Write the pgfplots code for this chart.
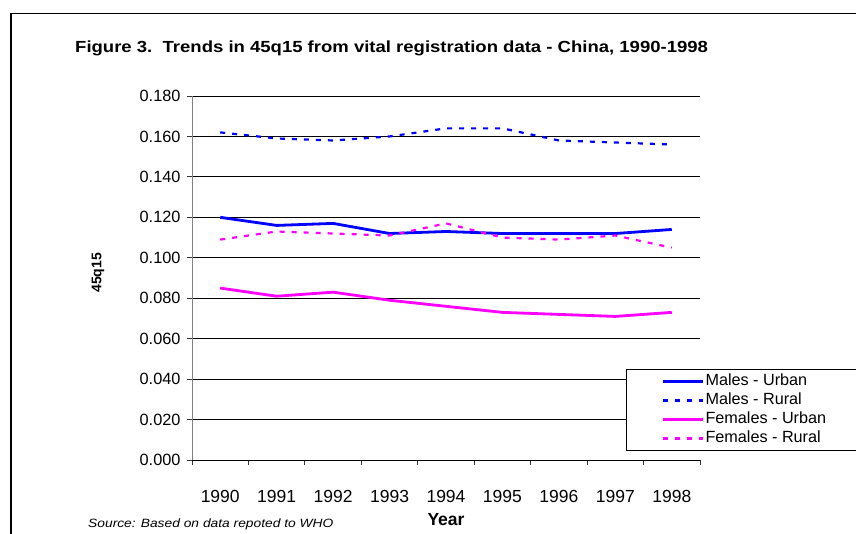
\documentclass[border=0pt]{standalone}
\usepackage{pgfplots}
\pgfplotsset{compat=1.18}
\usepackage{fontspec}
\setmainfont{Liberation Sans}
\newfontfamily\stretchfont{Liberation Sans}[FakeStretch=1.15]
\definecolor{mblue}{RGB}{0,0,255}
\definecolor{fmag}{RGB}{255,0,255}
\begin{document}
\begin{tikzpicture}
\useasboundingbox (0pt,0pt) rectangle (856pt,-534pt);
\draw[line width=1.5pt] (11pt,-540pt) -- (11pt,-13.5pt) -- (860pt,-13.5pt);
\node[anchor=base west, inner sep=0pt, font=\stretchfont\bfseries\fontsize{16.1}{19}\selectfont] at (75pt,-53pt) {Figure 3.\ \ Trends in 45q15 from vital registration data - China, 1990-1998};
\node[anchor=base west, inner sep=0pt, font=\stretchfont\itshape\fontsize{12}{14}\selectfont] at (88pt,-527pt) {Source: Based on data repoted to WHO};
\begin{axis}[
  at={(192pt,-460pt)}, anchor=south west,
  scale only axis, width=508pt, height=364pt,
  xmin=-0.5, xmax=8.5, ymin=0, ymax=0.18,
  axis lines*=left,
  x axis line style={black, line width=1pt},
  y axis line style={black!50, line width=1pt},
  xtick={-0.5,0.5,...,8.5}, xticklabels={},
  extra x ticks={0,1,2,3,4,5,6,7,8},
  extra x tick labels={1990,1991,1992,1993,1994,1995,1996,1997,1998},
  extra x tick style={major tick length=0pt},
  xticklabel shift=27pt,
  xticklabel style={font=\fontsize{17.5}{20}\selectfont},
  ytick={0,0.02,...,0.181},
  yticklabel shift=3pt,
  yticklabel style={font=\fontsize{16.3}{19}\selectfont, /pgf/number format/.cd, fixed, fixed zerofill, precision=3, assume math mode=true},
  tick align=outside, major tick length=5pt,
  tick style={black!80, line width=0.8pt},
  ymajorgrids, major grid style={black, line width=0.8pt},
  ylabel={\bfseries 45q15},
  ylabel style={at={(axis description cs:-0.185,0.514)}, anchor=center, rotate=0, font=\fontsize{14}{16}\selectfont},
  xlabel={\bfseries Year},
  xlabel style={at={(axis description cs:0.5,-0.165)}, anchor=center, font=\fontsize{17.5}{20}\selectfont},
  legend cell align=left,
  legend image code/.code={\draw[#1] (0pt,0pt) -- (40pt,0pt);},
  legend style={at={(axis description cs:0.854,0.25)}, anchor=north west,
    draw=black, line width=0.8pt, inner xsep=35pt, inner ysep=2.5pt, row sep=0pt,
    font=\fontsize{16.2}{19}\selectfont,
    nodes={inner sep=1.5pt, text height=12pt, text depth=4pt}},
]
\addplot[mblue, line width=2.8pt] coordinates {(0,0.120)(1,0.116)(2,0.117)(3,0.112)(4,0.113)(5,0.112)(6,0.112)(7,0.112)(8,0.114)};
\addlegendentry{Males - Urban}
\addplot[mblue, line width=2.2pt, dash pattern=on 5pt off 7pt] coordinates {(0,0.162)(1,0.159)(2,0.158)(3,0.160)(4,0.164)(5,0.164)(6,0.158)(7,0.157)(8,0.156)};
\addlegendentry{Males - Rural}
\addplot[fmag, line width=2.8pt] coordinates {(0,0.085)(1,0.081)(2,0.083)(3,0.079)(4,0.076)(5,0.073)(6,0.072)(7,0.071)(8,0.073)};
\addlegendentry{Females - Urban}
\addplot[fmag, line width=2.2pt, dash pattern=on 5pt off 7pt] coordinates {(0,0.109)(1,0.113)(2,0.112)(3,0.111)(4,0.117)(5,0.110)(6,0.109)(7,0.111)(8,0.105)};
\addlegendentry{Females - Rural}
\end{axis}
\end{tikzpicture}
\end{document}
